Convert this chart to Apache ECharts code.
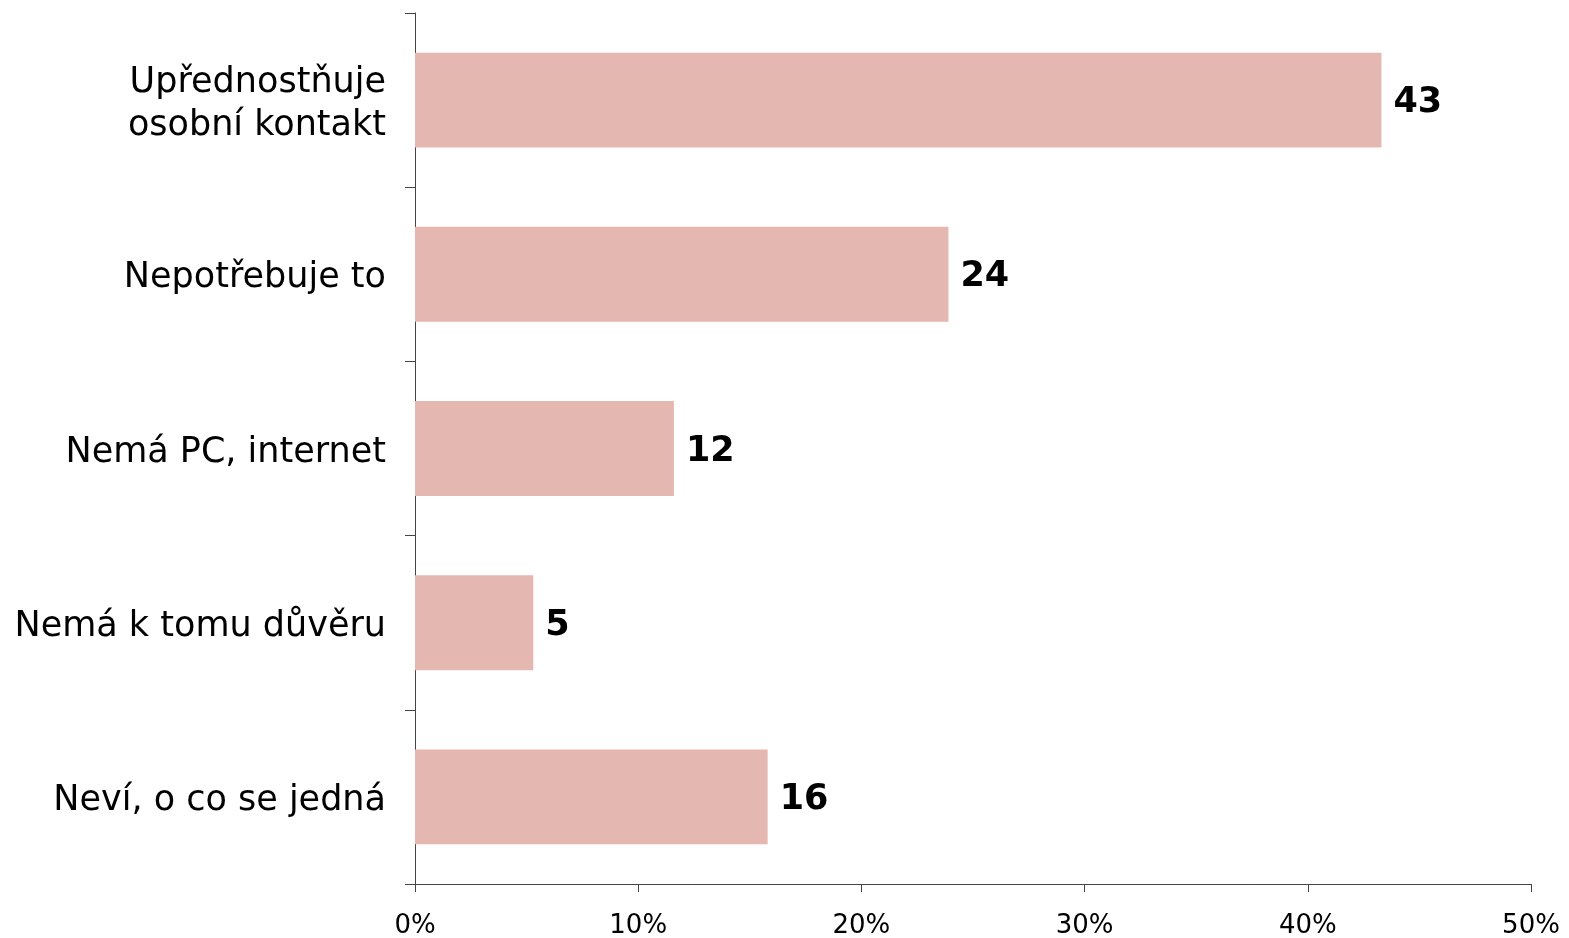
<!DOCTYPE html>
<html><head><meta charset="utf-8">
<script src="https://cdn.jsdelivr.net/npm/echarts@6/dist/echarts.min.js"></script>
<style>html,body{margin:0;padding:0;background:#fff}#c{width:1569px;height:938px}</style>
</head><body><div id="c"></div>
<script>
const categories = ["Upřednostňuje\nosobní kontakt", "Nepotřebuje to", "Nemá PC, internet", "Nemá k tomu důvěru", "Neví, o co se jedná"];
const values = [43.3, 23.9, 11.6, 5.3, 15.8];
const xTicks = [0, 10, 20, 30, 40, 50];

const chart = echarts.init(document.getElementById('c'), null, {renderer: 'canvas'});
chart.setOption({
  animation: false,
  grid: {left: 415, right: 38, top: 13, bottom: 54, containLabel: false, outerBoundsMode: 'none'},
  xAxis: {
    type: 'value', min: xTicks[0], max: xTicks[xTicks.length - 1], interval: xTicks[1] - xTicks[0],
    axisLine: {show: true, lineStyle: {color: '#444', width: 1}},
    axisTick: {show: true, length: 8, lineStyle: {color: '#444'}},
    splitLine: {show: false},
    axisLabel: {formatter: v => v + '%', color: '#000', fontFamily: 'DejaVu Sans', fontSize: 26, margin: 29}
  },
  yAxis: {
    type: 'category', data: categories, inverse: true,
    axisLine: {show: true, lineStyle: {color: '#444', width: 1}},
    axisTick: {show: true, length: 10, lineStyle: {color: '#444'}},
    axisLabel: {color: '#000', fontFamily: 'DejaVu Sans', fontSize: 35, margin: 29, lineHeight: 43, align: 'right',
      formatter: v => '{b|}\n' + v.split('\n').map(s => '{a|' + s + '}').join('\n'),
      rich: {a: {fontFamily: 'DejaVu Sans', fontSize: 35, lineHeight: 43, color: '#000'}, b: {height: 1, lineHeight: 8, fontSize: 1}}}
  },
  series: [{
    type: 'bar', data: values, barCategoryGap: '45.5%',
    itemStyle: {color: '#E5B7B1'},
    label: {show: true, position: 'right', distance: 12, offset: [0, 3], formatter: p => Math.round(p.value),
      color: '#000', fontFamily: 'DejaVu Sans', fontWeight: 'bold', fontSize: 35}
  }]
});
</script></body></html>
